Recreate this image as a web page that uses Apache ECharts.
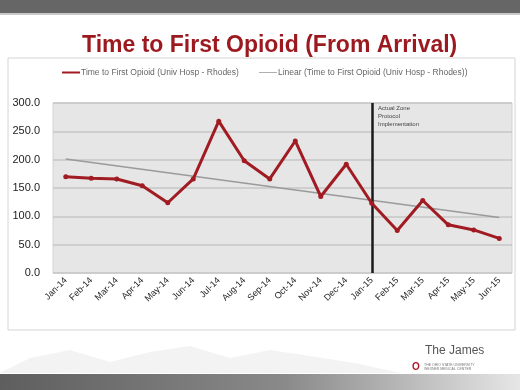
<!DOCTYPE html>
<html>
<head>
<meta charset="utf-8">
<script src="https://cdn.jsdelivr.net/npm/echarts@6/dist/echarts.min.js"></script>
<style>
  html, body { margin: 0; padding: 0; background: #ffffff; }
  #main { width: 520px; height: 390px; }
</style>
</head>
<body>
<div id="main"></div>
<script>
// ---- data ----
const months = [
  "Jan-14", "Feb-14", "Mar-14", "Apr-14", "May-14", "Jun-14",
  "Jul-14", "Aug-14", "Sep-14", "Oct-14", "Nov-14", "Dec-14",
  "Jan-15", "Feb-15", "Mar-15", "Apr-15", "May-15", "Jun-15"
];
const opioidMinutes = [170, 167, 166, 154, 124, 166, 268, 198, 166, 233, 135, 192, 123, 75, 128, 85, 76, 61];
// trendline end points (first and last month)
const trendEnds = [201, 98];
const yTicks = [0, 50, 100, 150, 200, 250, 300];
const protocolMonth = "Jan-15";

const seriesName = "Time to First Opioid (Univ Hosp - Rhodes)";
const trendName = "Linear (Time to First Opioid (Univ Hosp - Rhodes))";

const trendData = months.map((m, i) =>
  i === 0 ? trendEnds[0] : i === months.length - 1 ? trendEnds[1] : null
);

const chart = echarts.init(document.getElementById("main"));

const option = {
  backgroundColor: "#ffffff",
  animation: false,
  title: {
    text: "Time to First Opioid (From Arrival)",
    left: 77,
    top: 29,
    textStyle: {
      fontFamily: "Liberation Sans, Arial, sans-serif",
      fontSize: 23,
      fontWeight: "bold",
      color: "#9c1a1f"
    }
  },
  legend: {
    top: 63,
    left: 57,
    itemGap: 20,
    itemWidth: 18,
    itemHeight: 6,
    textStyle: { fontSize: 8.5, color: "#666", fontFamily: "Liberation Sans, Arial", padding: [0, 0, 0, -4] },
    data: [
      { name: seriesName, icon: "path://M0,3L18,3L18,5L0,5Z" },
      { name: trendName, icon: "path://M0,3.6L18,3.6L18,4.4L0,4.4Z" }
    ]
  },
  grid: {
    left: 53,
    right: 8,
    top: 103,
    bottom: 117,
    show: true,
    backgroundColor: "#e6e6e6",
    borderColor: "#d2d2d2",
    borderWidth: 1
  },
  xAxis: {
    type: "category",
    data: months,
    boundaryGap: true,
    axisLine: { show: false },
    axisTick: { show: false },
    axisLabel: {
      rotate: 45,
      fontSize: 9,
      color: "#222",
      margin: 6,
      interval: 0,
      fontFamily: "Liberation Sans, Arial"
    }
  },
  yAxis: {
    type: "value",
    min: yTicks[0],
    max: yTicks[yTicks.length - 1],
    interval: yTicks[1] - yTicks[0],
    axisLine: { show: false },
    axisTick: { show: false },
    axisLabel: {
      fontSize: 11,
      color: "#222",
      margin: 13,
      fontFamily: "Liberation Sans, Arial",
      formatter: (v) => v.toFixed(1)
    },
    splitLine: { lineStyle: { color: "#c6c6c6", width: 1.5 } }
  },
  series: [
    {
      name: seriesName,
      type: "line",
      data: opioidMinutes,
      symbol: "circle",
      symbolSize: 5,
      lineStyle: { color: "#a01c22", width: 3 },
      itemStyle: { color: "#a01c22" },
      z: 5,
      markLine: {
        silent: true,
        symbol: "none",
        label: { show: false },
        lineStyle: { color: "#1a1a1a", width: 2.5, type: "solid" },
        data: [{ xAxis: protocolMonth }]
      }
    },
    {
      name: trendName,
      type: "line",
      data: trendData,
      connectNulls: true,
      symbol: "none",
      lineStyle: { color: "#9a9a9a", width: 1.5 },
      itemStyle: { color: "#9a9a9a" },
      z: 3
    }
  ],
  graphic: [
    // top banner
    { type: "rect", shape: { x: 0, y: 0, width: 520, height: 13 }, style: { fill: "#666666" } },
    { type: "rect", shape: { x: 0, y: 13, width: 520, height: 2 }, style: { fill: "#c8c8c8" } },
    // chart frame
    { type: "rect", shape: { x: 8, y: 58, width: 507, height: 272 },
      style: { fill: "none", stroke: "#d4d4d4", lineWidth: 1 }, z: -1 },
    // annotation beside the protocol line
    { type: "text", left: 378, top: 104,
      style: { text: "Actual Zone\nProtocol\nImplementation", fontSize: 6, lineHeight: 8,
        fill: "#444", fontFamily: "Liberation Sans, Arial" } },
    // faint mountains decoration
    { type: "polygon", shape: { points: [[0, 373], [30, 358], [70, 350], [110, 362], [150, 352], [190, 346], [230, 358], [270, 350], [310, 356], [360, 364], [400, 373]] },
      style: { fill: "#f3f3f3" }, z: -2 },
    // bottom band
    { type: "rect", shape: { x: 0, y: 374, width: 520, height: 16 },
      style: { fill: new echarts.graphic.LinearGradient(0, 0, 1, 0, [
        { offset: 0, color: "#5e5e5e" }, { offset: 0.55, color: "#8a8a8a" }, { offset: 1, color: "#e6e6e6" }]) } },
    // footer branding
    { type: "text", left: 425, top: 345,
      style: { text: "The James", fontSize: 12, fill: "#555", fontFamily: "Liberation Sans, Arial" } },
    { type: "text", left: 412, top: 362,
      style: { text: "O", fontSize: 10, fontWeight: "bold", fill: "#b0182a", fontFamily: "Liberation Sans, Arial" } },
    { type: "text", left: 424, top: 363,
      style: { text: "THE OHIO STATE UNIVERSITY\nWEXNER MEDICAL CENTER", fontSize: 3.5, lineHeight: 4,
        fill: "#777", fontFamily: "Liberation Sans, Arial" } }
  ]
};

chart.setOption(option);
</script>
</body>
</html>
